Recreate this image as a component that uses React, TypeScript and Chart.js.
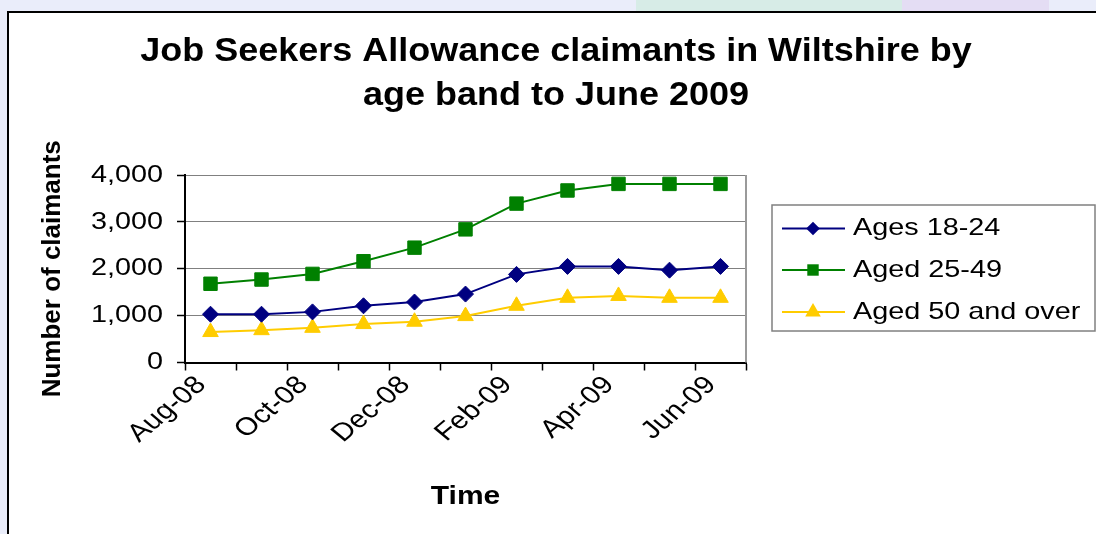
import React, { useEffect, useRef } from 'react';
import { Chart, registerables } from 'chart.js';

Chart.register(...registerables);

const months = ['Aug-08', 'Sep-08', 'Oct-08', 'Nov-08', 'Dec-08', 'Jan-09', 'Feb-09', 'Mar-09', 'Apr-09', 'May-09', 'Jun-09'];
const ages1824 = [1030, 1030, 1080, 1210, 1290, 1460, 1880, 2050, 2050, 1970, 2050];
const aged2549 = [1680, 1770, 1890, 2160, 2450, 2840, 3390, 3670, 3810, 3810, 3810];
const aged50over = [650, 690, 740, 820, 870, 990, 1210, 1380, 1420, 1380, 1380];
const seriesNames = ['Ages 18-24', 'Aged 25-49', 'Aged 50 and over'];
const yMin = 0;
const yMax = 4000;
const yStep = 1000;
const titleLines = ['Job Seekers Allowance claimants in Wiltshire by', 'age band to June 2009'];
const yTitle = 'Number of claimants';
const xTitle = 'Time';

const FONT = '"Liberation Sans", Arial, Helvetica, sans-serif';
const STRETCH = 1.2;

const stretchPlugin = {
  id: 'stretchText',
  beforeInit(chart: any) {
    const ctx: any = chart.ctx;
    if (ctx.__stretched) return;
    const orig = ctx.fillText.bind(ctx);
    ctx.fillText = function (text: string, x: number, y: number, maxWidth?: number) {
      const m = ctx.getTransform();
      const dpr = Math.hypot(m.a, m.b) || 1;
      const k = ctx.__stretch ?? STRETCH;
      if (Math.abs(m.a) / dpr < 0.05 || k === 1) {
        if (maxWidth !== undefined) orig(text, x, y, maxWidth);
        else orig(text, x, y);
        return;
      }
      const px = m.a * x + m.c * y + m.e;
      const py = m.b * x + m.d * y + m.f;
      ctx.save();
      ctx.setTransform(1, 0, 0, 1, 0, 0);
      ctx.translate(px, py);
      ctx.scale(k, 1);
      ctx.translate(-px, -py);
      ctx.transform(m.a, m.b, m.c, m.d, m.e, m.f);
      if (maxWidth !== undefined) orig(text, x, y, maxWidth);
      else orig(text, x, y);
      ctx.restore();
    };
    ctx.__stretched = true;
  },
};

const decorPlugin = {
  id: 'decor',
  afterDraw(chart: any) {
    const { ctx, chartArea } = chart;
    ctx.save();
    // plot right border
    ctx.strokeStyle = '#9a9a9a';
    ctx.lineWidth = 2;
    ctx.beginPath();
    ctx.moveTo(chartArea.right, chartArea.top);
    ctx.lineTo(chartArea.right, chartArea.bottom);
    ctx.stroke();

    // title
    ctx.fillStyle = '#000';
    ctx.textAlign = 'center';
    ctx.textBaseline = 'alphabetic';
    ctx.font = `bold 33px ${FONT}`;
    ctx.__stretch = 1.09;
    ctx.fillText(titleLines[0], 556, 61);
    ctx.fillText(titleLines[1], 556, 105);
    ctx.__stretch = undefined;

    // legend
    const box = { left: 772, top: 205, right: 1095, bottom: 331 };
    ctx.strokeStyle = '#808080';
    ctx.lineWidth = 1.5;
    ctx.strokeRect(box.left, box.top, box.right - box.left, box.bottom - box.top);
    const rows = [228.5, 270, 312];
    chart.data.datasets.forEach((ds: any, i: number) => {
      const y = rows[i];
      ctx.strokeStyle = ds.borderColor;
      ctx.lineWidth = 2;
      ctx.beginPath();
      ctx.moveTo(782, y);
      ctx.lineTo(845, y);
      ctx.stroke();
      const cx = 813;
      ctx.fillStyle = ds.backgroundColor;
      ctx.beginPath();
      if (ds.pointStyle === 'rectRot') {
        const r = ds.pointRadius * 0.85;
        ctx.moveTo(cx - r, y);
        ctx.lineTo(cx, y - r);
        ctx.lineTo(cx + r, y);
        ctx.lineTo(cx, y + r);
        ctx.closePath();
      } else if (ds.pointStyle === 'rect') {
        const s = ds.pointRadius * Math.SQRT1_2 * 0.85;
        ctx.rect(cx - s, y - s, 2 * s, 2 * s);
      } else {
        const r = ds.pointRadius;
        ctx.moveTo(cx, y - r);
        ctx.lineTo(cx + r * 0.866, y + r / 2);
        ctx.lineTo(cx - r * 0.866, y + r / 2);
        ctx.closePath();
      }
      ctx.fill();
      ctx.fillStyle = '#000';
      ctx.font = `24px ${FONT}`;
      ctx.textAlign = 'left';
      ctx.textBaseline = 'middle';
      ctx.fillText(ds.label, 853, y);
    });
    ctx.restore();
  },
};

export default function App() {
  const canvasRef = useRef<HTMLCanvasElement | null>(null);

  useEffect(() => {
    const canvas = canvasRef.current;
    if (!canvas) return;
    const chart = new Chart(canvas, {
      type: 'line',
      data: {
        labels: months,
        datasets: [
          {
            label: seriesNames[0],
            data: ages1824,
            borderColor: '#000080',
            backgroundColor: '#000080',
            borderWidth: 2,
            pointStyle: 'rectRot',
            pointRadius: 8,
            pointBorderWidth: 1,
            tension: 0,
          },
          {
            label: seriesNames[1],
            data: aged2549,
            borderColor: '#008000',
            backgroundColor: '#008000',
            borderWidth: 2,
            pointStyle: 'rect',
            pointRadius: 9.5,
            pointBorderWidth: 1,
            tension: 0,
          },
          {
            label: seriesNames[2],
            data: aged50over,
            borderColor: '#FFCC00',
            backgroundColor: '#FFCC00',
            borderWidth: 2,
            pointStyle: 'triangle',
            pointRadius: 9,
            pointBorderWidth: 1,
            tension: 0,
          },
        ],
      } as any,
      options: {
        responsive: false,
        animation: false,
        layout: { padding: { left: 0, top: 175, right: 350, bottom: 0 } },
        plugins: {
          legend: { display: false },
          title: { display: false },
          tooltip: { enabled: false },
        },
        scales: {
          x: {
            type: 'category',
            offset: true,
            grid: {
              offset: true,
              drawOnChartArea: false,
              drawTicks: true,
              tickLength: 8,
              tickColor: '#000',
              tickWidth: 1.5,
            },
            border: { display: true, color: '#000', width: 2 },
            ticks: {
              autoSkip: false,
              maxRotation: 45,
              minRotation: 45,
              padding: 0,
              labelOffset: -9,
              color: '#000',
              font: { family: FONT, size: 25 },
              callback: function (this: any, value: any, index: number) {
                return index % 2 === 0 ? this.getLabelForValue(value) : '';
              },
            },
            title: {
              display: true,
              text: xTitle,
              color: '#000',
              font: { family: FONT, size: 25, weight: 'bold' },
              padding: { top: 0, bottom: 22 },
            },
            afterFit: (s: any) => {
              s.height = 171.5;
            },
          },
          y: {
            min: yMin,
            max: yMax,
            ticks: {
              stepSize: yStep,
              padding: 14,
              color: '#000',
              font: { family: FONT, size: 24 },
              callback: (v: any) => Number(v).toLocaleString('en-US'),
            },
            grid: {
              color: '#808080',
              lineWidth: 1,
              tickColor: '#000',
              tickLength: 8,
              tickWidth: 1.5,
            },
            border: { color: '#000', width: 2 },
            title: {
              display: true,
              text: yTitle,
              color: '#000',
              font: { family: FONT, size: 26, weight: 'bold' },
              padding: { top: 37, bottom: 0 },
            },
            afterFit: (s: any) => {
              s.width = 185;
            },
          },
        },
      } as any,
      plugins: [stretchPlugin, decorPlugin],
    });
    return () => chart.destroy();
  }, []);

  return (
    <div
      style={{
        position: 'fixed',
        left: 0,
        top: 0,
        width: 1096,
        height: 534,
        overflow: 'hidden',
        background: '#eaedfa',
      }}
    >
      <div style={{ position: 'absolute', left: 636, top: 0, width: 266, height: 11, background: '#d7ece7' }} />
      <div style={{ position: 'absolute', left: 902, top: 0, width: 147, height: 11, background: '#e4ddf4' }} />
      <div
        style={{
          position: 'absolute',
          left: 7,
          top: 11,
          width: 1200,
          height: 600,
          border: '2px solid #000',
          background: '#fff',
        }}
      />
      <canvas
        ref={canvasRef}
        width={1096}
        height={534}
        style={{ position: 'absolute', left: 0, top: 0, width: 1096, height: 534 }}
      />
    </div>
  );
}
